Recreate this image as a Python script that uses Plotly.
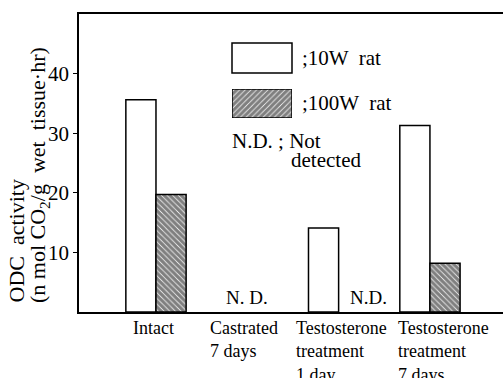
import plotly.graph_objects as go

# ---- data ----
categories = ["Intact", "Castrated<br>7 days", "Testosterone<br>treatment<br>1 day", "Testosterone<br>treatment<br>7 days"]
cat_pos = [0, 1, 2, 3]
rat10w = [35.6, None, 14.1, 31.3]
rat100w = [19.7, None, None, 8.2]
y_ticks = [10, 20, 30, 40]
nd_labels = [(1, 0.0, "N. D."), (2, 0.33, "N.D.")]  # (category, offset, text)

FONT = "Liberation Serif"
W, H = 503, 378
L, R, T, B = 79, 0, 14, 66
PW, PH = W - L - R, H - T - B

def px_x(p):
    return (p - L) / PW

def px_y(p):
    return (H - B - p) / PH

bw = 0.33
fig = go.Figure()
fig.add_trace(go.Bar(
    x=cat_pos, y=rat10w, width=bw, offset=-bw,
    marker=dict(color="white", line=dict(color="black", width=1.5)),
    showlegend=False,
))
fig.add_trace(go.Bar(
    x=cat_pos, y=rat100w, width=bw, offset=0,
    marker=dict(color="white", line=dict(color="black", width=1.5),
                pattern=dict(shape="\\", fgcolor="black", bgcolor="white", size=4, solidity=0.8)),
    showlegend=False,
))

# legend swatch (hatched) on an overlay axis
fig.add_trace(go.Bar(
    x=[0.5], y=[1], width=[1], xaxis="x2", yaxis="y2",
    marker=dict(color="white", line=dict(color="black", width=1.5),
                pattern=dict(shape="/", fgcolor="black", bgcolor="white", size=4, solidity=0.8)),
    showlegend=False, hoverinfo="skip",
))

annotations = []
# category labels
cat_shift = [-2, -3, 3, 14]
for xc, lab, sh in zip(cat_pos, categories, cat_shift):
    annotations.append(dict(
        x=xc, xref="x", y=0, yref="paper", yanchor="top", xanchor="center",
        xshift=sh, yshift=-4, text=lab, align="left", showarrow=False,
        font=dict(family=FONT, size=18, color="black"),
    ))
# N.D. labels
for xc, off, txt in nd_labels:
    annotations.append(dict(
        x=xc + off, xref="x", y=0, yref="y", yanchor="bottom", xanchor="center",
        yshift=2, text=txt, showarrow=False,
        font=dict(family=FONT, size=19, color="black"),
    ))
# y-axis title
annotations.append(dict(
    x=px_x(16), xref="paper", y=px_y(305), yref="paper", xanchor="center", yanchor="bottom",
    text="ODC  activity", textangle=-90, showarrow=False,
    font=dict(family=FONT, size=22, color="black"),
))
annotations.append(dict(
    x=px_x(39), xref="paper", y=px_y(305), yref="paper", xanchor="center", yanchor="bottom",
    text="(n mol CO<sub>2</sub>/g  wet  tissue·hr)", textangle=-90, showarrow=False,
    font=dict(family=FONT, size=22, color="black"),
))
# legend texts
annotations.append(dict(x=px_x(300), xref="paper", y=px_y(58), yref="paper", xanchor="left", yanchor="middle",
                        text=";10W  rat", showarrow=False, font=dict(family=FONT, size=21, color="black")))
annotations.append(dict(x=px_x(300), xref="paper", y=px_y(103), yref="paper", xanchor="left", yanchor="middle",
                        text=";100W  rat", showarrow=False, font=dict(family=FONT, size=21, color="black")))
annotations.append(dict(x=px_x(230), xref="paper", y=px_y(141), yref="paper", xanchor="left", yanchor="middle",
                        text="N.D. ; Not", showarrow=False, font=dict(family=FONT, size=21, color="black")))
annotations.append(dict(x=px_x(289), xref="paper", y=px_y(160), yref="paper", xanchor="left", yanchor="middle",
                        text="detected", showarrow=False, font=dict(family=FONT, size=21, color="black")))

shapes = [
    dict(type="rect", xref="paper", yref="paper", x0=px_x(232), x1=px_x(292), y0=px_y(73), y1=px_y(43),
         line=dict(color="black", width=1.5), fillcolor="white"),
]

fig.update_layout(
    width=W, height=H,
    margin=dict(l=L, r=R, t=T, b=B, pad=0),
    paper_bgcolor="white", plot_bgcolor="white",
    barmode="overlay",
    xaxis=dict(range=[-0.843, 3.80], showline=True, mirror=True, linecolor="black", linewidth=1.5,
               showticklabels=False, ticks="", showgrid=False, zeroline=False, fixedrange=True),
    yaxis=dict(range=[0, 50], showline=True, linecolor="black", linewidth=1.5,
               tickvals=y_ticks, ticks="outside", ticklen=4, tickwidth=1.2, tickcolor="black",
               tickfont=dict(family=FONT, size=21, color="black"),
               showgrid=False, zeroline=False, fixedrange=True),
    xaxis2=dict(domain=[px_x(232), px_x(292)], range=[0, 1], visible=False, anchor="y2", fixedrange=True),
    yaxis2=dict(domain=[px_y(118), px_y(89)], range=[0, 1], visible=False, anchor="x2", fixedrange=True),
    annotations=annotations,
    shapes=shapes,
    font=dict(family=FONT, color="black"),
)

fig.write_html("out.html")
